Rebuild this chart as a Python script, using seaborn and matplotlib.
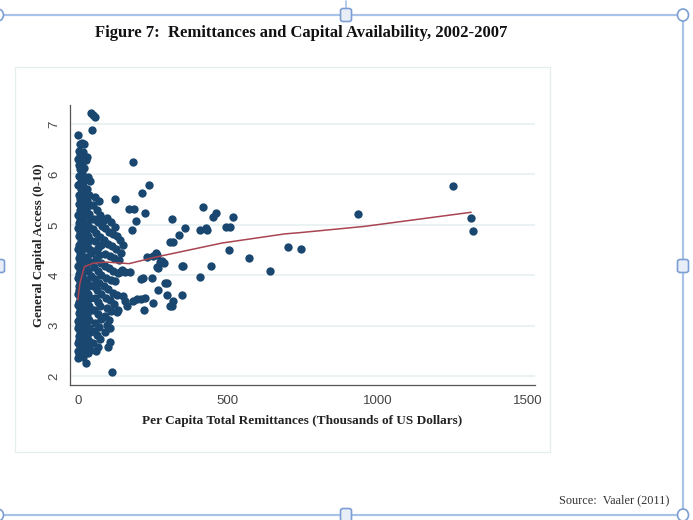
import numpy as np
import pandas as pd
import matplotlib
matplotlib.use("Agg")
import matplotlib.pyplot as plt
import seaborn as sns
from matplotlib.patches import Rectangle, Ellipse, FancyBboxPatch
from matplotlib.lines import Line2D

# Per capita remittances (thousands USD) vs general capital access (0-10)
# values, grouped by region of the cloud
x_col1 = [2, 6, 3, 8, 2, 5, 9, 3, 7, 2, 10, 4, 8, 3, 6, 1, 9, 4, 2, 7, 3, 10, 5, 1, 8, 3, 6, 2, 9, 4,
          1, 7, 3, 5, 2, 8, 4, 1, 6, 3, 9, 2, 5, 1, 7, 3, 4, 2, 6, 1, 4, 2]
y_col1 = [6.78, 6.60, 6.47, 6.38, 6.30, 6.18, 6.10, 5.98, 5.84, 5.80, 5.72, 5.60, 5.52, 5.41, 5.30,
          5.20, 5.12, 5.03, 4.94, 4.85, 4.77, 4.68, 4.60, 4.52, 4.43, 4.35, 4.27, 4.18, 4.10, 4.02,
          3.94, 3.86, 3.78, 3.70, 3.62, 3.55, 3.47, 3.40, 3.32, 3.25, 3.17, 3.10, 3.02, 2.95, 2.87,
          2.80, 2.72, 2.65, 2.57, 2.50, 2.43, 2.36]

x_col2 = [14, 22, 18, 25, 15, 20, 13, 24, 16, 21, 13, 19, 25, 15, 22, 12, 18, 24, 14, 20, 16, 23,
          12, 19, 25, 15, 21, 13, 18, 24, 14, 20, 16, 23, 12, 19, 25, 15, 21, 13, 18, 24, 14, 20,
          16, 23, 13, 19]
y_col2 = [6.62, 6.60, 6.45, 6.33, 6.25, 6.12, 6.02, 5.90, 5.78, 5.66, 5.57, 5.45, 5.36, 5.27, 5.18,
          5.08, 4.99, 4.90, 4.81, 4.72, 4.62, 4.54, 4.45, 4.36, 4.28, 4.20, 4.10, 4.00, 3.92, 3.84,
          3.75, 3.66, 3.58, 3.50, 3.42, 3.34, 3.26, 3.18, 3.09, 3.00, 2.92, 2.84, 2.75, 2.67, 2.58,
          2.50, 2.42, 2.38]

x_col3 = [30, 28, 35, 42, 30, 38, 32, 40, 29, 36, 44, 31, 39, 28, 34, 42, 30, 37, 45, 32, 40, 29,
          35, 43, 31, 38, 28, 34, 41, 30, 37, 44, 32, 39, 29, 36, 42, 31, 38, 33, 40, 35, 27]
y_col3 = [6.35, 6.28, 5.95, 5.87, 5.72, 5.60, 5.50, 5.40, 5.30, 5.22, 5.12, 5.03, 4.95, 4.86, 4.78,
          4.70, 4.62, 4.52, 4.44, 4.36, 4.27, 4.18, 4.08, 3.98, 3.90, 3.80, 3.72, 3.62, 3.55, 3.46,
          3.38, 3.30, 3.21, 3.12, 3.05, 2.96, 2.88, 2.78, 2.70, 2.60, 2.52, 2.45, 2.25]

x_col4 = [58, 70, 52, 64, 75, 55, 68, 80, 50, 62, 73, 57, 78, 66, 52, 71, 60, 76, 54, 67, 79, 58,
          72, 50, 64, 77, 56, 69, 74, 53, 66, 78, 59, 71, 55, 63, 75, 52, 67, 60]
y_col4 = [5.55, 5.47, 5.40, 5.30, 5.20, 5.12, 5.05, 4.98, 4.92, 4.84, 4.76, 4.68, 4.60, 4.55, 4.48,
          4.40, 4.32, 4.24, 4.16, 4.08, 4.00, 3.92, 3.85, 3.78, 3.70, 3.62, 3.55, 3.47, 3.38, 3.30,
          3.22, 3.14, 3.06, 2.98, 2.90, 2.82, 2.74, 2.66, 2.58, 2.50]

x_col5 = [88, 97, 110, 125, 92, 103, 118, 132, 140, 86, 100, 113, 128, 145, 150, 92, 106, 122, 137,
          90, 104, 117, 133, 148, 95, 110, 125, 88, 102, 116, 130, 94, 108, 121, 98, 112, 90, 104,
          96, 107, 91, 101, 107, 124, 114, 130, 141, 157, 174]
y_col5 = [5.10, 5.13, 5.05, 4.96, 4.93, 4.85, 4.82, 4.78, 4.70, 4.70, 4.62, 4.58, 4.52, 4.45, 4.60,
          4.42, 4.38, 4.35, 4.30, 4.18, 4.15, 4.08, 4.05, 4.10, 3.95, 3.90, 3.88, 3.78, 3.72, 3.65,
          3.60, 3.55, 3.50, 3.42, 3.35, 3.28, 3.20, 3.12, 3.02, 2.95, 2.87, 2.58, 2.68, 5.52, 2.08,
          3.27, 4.07, 4.07, 4.07]

x_far = [43, 52, 59, 46, 185, 237, 215, 171, 188, 224, 194, 182, 314, 356, 338, 307, 316, 417, 460,
         452, 426, 406, 432, 495, 509, 517, 506, 933, 1253, 1310, 1318, 700, 743, 572, 641, 443,
         350, 406, 230, 263, 274, 263, 267, 346, 217, 247, 291, 297, 267, 297, 317, 347, 224, 251,
         221, 307, 252, 282, 289, 260, 212, 196, 210, 185, 151, 157, 163, 135, 313]
y_far = [7.22, 7.19, 7.15, 6.89, 6.25, 5.79, 5.63, 5.32, 5.32, 5.23, 5.07, 4.90, 5.11, 4.93, 4.79,
         4.66, 4.66, 5.36, 5.23, 5.15, 4.93, 4.90, 4.90, 4.95, 4.95, 5.15, 4.50, 5.22, 5.78, 5.13,
         4.87, 4.56, 4.52, 4.34, 4.09, 4.19, 4.19, 3.96, 4.37, 4.40, 4.27, 4.17, 4.15, 4.19, 3.94,
         3.94, 3.85, 3.85, 3.71, 3.60, 3.48, 3.61, 3.55, 3.45, 3.30, 3.38, 4.38, 4.28, 4.25, 4.44,
         3.93, 3.53, 3.53, 3.48, 3.58, 3.48, 3.38, 3.30, 3.38]

# lowess fit
fit_x = [0, 7, 22, 52, 96, 171, 260, 482, 690, 749, 957, 1312]
fit_y = [3.51, 3.84, 4.17, 4.24, 4.26, 4.23, 4.36, 4.64, 4.82, 4.85, 4.97, 5.25]

df = pd.DataFrame({
    "remit": x_col1 + x_col2 + x_col3 + x_col4 + x_col5 + x_far,
    "access": y_col1 + y_col2 + y_col3 + y_col4 + y_col5 + y_far,
})
fit = pd.DataFrame({"remit": fit_x, "access": fit_y})

sns.set_style("white")
plt.rcParams["font.family"] = ["Liberation Sans", "DejaVu Sans"]

W, H = 693, 520
fig = plt.figure(figsize=(W / 100, H / 100), dpi=100)
fig.patch.set_facecolor("white")

# light graph-region box
fig.add_artist(Rectangle((15 / W, 1 - 452 / H), 535 / W, 385 / H, transform=fig.transFigure,
                         fill=False, edgecolor="#E6EDEE", lw=0.9))

ax = fig.add_axes([70 / W, 1 - 385 / H, 465 / W, 280 / H])
sns.scatterplot(data=df, x="remit", y="access", ax=ax, color="#1A476F", s=36,
                linewidth=0, zorder=3)
sns.lineplot(data=fit, x="remit", y="access", ax=ax, color="#A94452", lw=1.1,
             zorder=4, estimator=None, sort=True)

ax.set_xlim(-26, 1525)
ax.set_ylim(1.82, 7.38)
ax.set_xticks([0, 500, 1000, 1500])
ax.set_yticks([2, 3, 4, 5, 6, 7])
ax.yaxis.grid(True, color="#E8F0F1", lw=1.2)
ax.set_axisbelow(True)
for s in ["top", "right"]:
    ax.spines[s].set_visible(False)
for s in ["left", "bottom"]:
    ax.spines[s].set_color("#555555")
    ax.spines[s].set_linewidth(0.9)
ax.tick_params(axis="both", length=4, width=0.8, color="#555555", labelsize=9.5,
               labelcolor="#444444", pad=3)
plt.setp(ax.get_yticklabels(), rotation=90, va="center")

serif_b = dict(family=["Liberation Serif", "DejaVu Serif"], weight="bold")
ax.set_xlabel("Per Capita Total Remittances (Thousands of US Dollars)", fontsize=9.5,
              labelpad=6, color="#222222", **serif_b)
ax.set_ylabel("General Capital Access (0-10)", fontsize=9.3, labelpad=2, color="#222222",
              **serif_b)

fig.text(301 / W, 1 - 33 / H, "Figure 7:  Remittances and Capital Availability, 2002-2007",
         ha="center", va="center", fontsize=12, color="#111111", **serif_b)
fig.text(669 / W, 1 - 500 / H, "Source:  Vaaler (2011)", ha="right", va="center",
         fontsize=8.8, color="#333333", family=["Liberation Serif", "DejaVu Serif"])

# document selection frame and handles
frame_c = "#A8C2E8"
handle_c = "#7C9ED2"
fig.add_artist(Line2D([0, 683 / W], [1 - 15 / H, 1 - 15 / H], color=frame_c, lw=1.6,
                      transform=fig.transFigure))
fig.add_artist(Line2D([0, 683 / W], [1 - 515 / H, 1 - 515 / H], color=frame_c, lw=1.6,
                      transform=fig.transFigure))
fig.add_artist(Line2D([683 / W, 683 / W], [1 - 15 / H, 1 - 515 / H], color=frame_c, lw=1.6,
                      transform=fig.transFigure))
fig.add_artist(Line2D([346 / W, 346 / W], [1 - 1 / H, 1 - 10 / H], color=frame_c, lw=1.2,
                      transform=fig.transFigure))
for cx, cy in [(-2, 15), (683, 15), (-2, 515), (683, 515)]:
    fig.add_artist(Ellipse((cx / W, 1 - cy / H), 11 / W, 12 / H, transform=fig.transFigure,
                           facecolor="white", edgecolor=handle_c, lw=1.2, zorder=10))
for cx, cy in [(346, 15), (346, 515), (683, 266), (-1, 266)]:
    fig.add_artist(FancyBboxPatch(((cx - 5.5) / W, 1 - (cy + 6.5) / H), 11 / W, 13 / H,
                                  boxstyle="round,pad=0,rounding_size=0.004",
                                  transform=fig.transFigure, facecolor="#E8EEF8",
                                  edgecolor=handle_c, lw=1.2, zorder=10))

fig.savefig("out.png", dpi=100)
